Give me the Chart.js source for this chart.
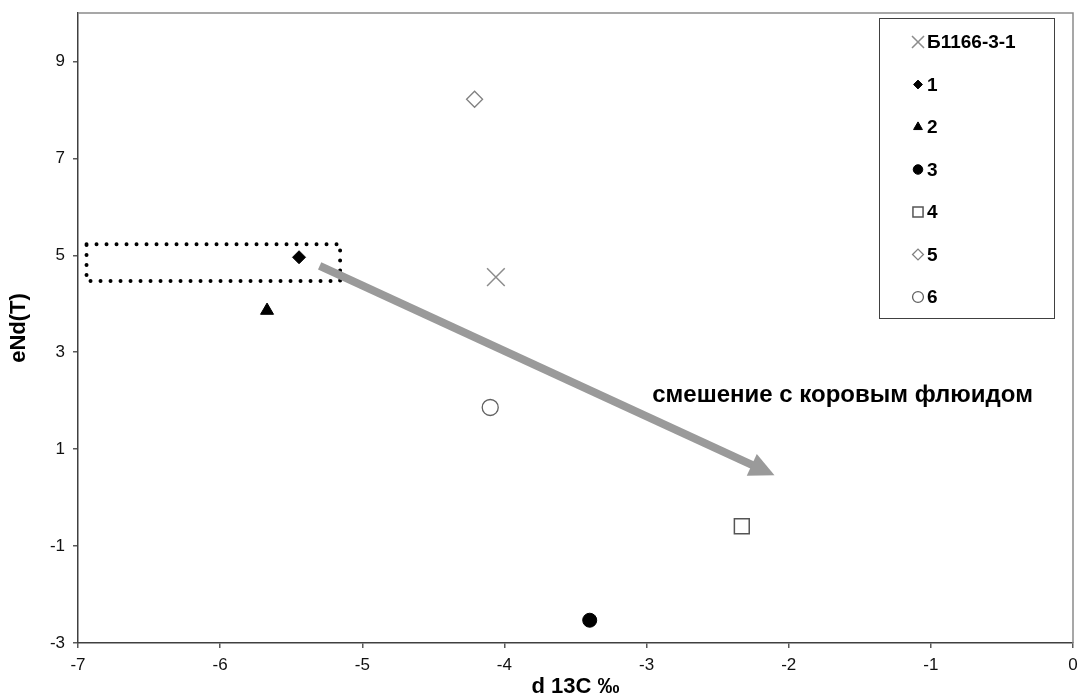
<!DOCTYPE html>
<html><head><meta charset="utf-8">
<script src="https://cdn.jsdelivr.net/npm/chart.js@4/dist/chart.umd.min.js"></script>
<style>html,body{margin:0;padding:0;background:#fff;overflow:hidden}canvas{display:block}</style>
</head><body>
<canvas id="c" width="1078" height="700"></canvas>
<script>
// ---- data ----
const seriesLabels = ['Б1166-3-1', '1', '2', '3', '4', '5', '6'];
const xValues = [-4.06, -5.445, -5.67, -3.40, -2.33, -4.21, -4.10];
const yValues = [4.55, 4.96, 3.86, -2.53, -0.59, 8.22, 1.86];
const xTicks = [-7, -6, -5, -4, -3, -2, -1, 0];
const yTicks = [-3, -1, 1, 3, 5, 7, 9];
const xTitle = 'd 13C ‰';
const yTitle = 'eNd(T)';
const boxXRange = [-6.94, -5.156];
const boxYRange = [4.47, 5.23];
const arrowFrom = [-5.30, 4.78];
const arrowTo = [-2.10, 0.46];
const noteText = 'смешение с коровым флюидом';
const notePos = [-2.96, 2.12];

// ---- styles ----
const FONT = "'Liberation Sans', Arial, sans-serif";
const markerStyles = [
  {pointStyle: 'crossRot', radius: 12.5, fill: 'rgba(0,0,0,0)', stroke: '#8c8c8c', bw: 1.5},
  {pointStyle: 'rectRot', radius: 6.5, fill: '#000', stroke: '#000', bw: 1},
  {pointStyle: 'triangle', radius: 7.5, fill: '#000', stroke: '#000', bw: 1},
  {pointStyle: 'circle', radius: 7, fill: '#000', stroke: '#000', bw: 1},
  {pointStyle: 'rect', radius: 10.5, fill: '#fff', stroke: '#555', bw: 1.5},
  {pointStyle: 'rectRot', radius: 8, fill: '#fff', stroke: '#808080', bw: 1.3},
  {pointStyle: 'circle', radius: 8, fill: '#fff', stroke: '#606060', bw: 1.3}
];

const datasets = seriesLabels.map((lab, i) => ({
  label: lab,
  data: [{x: xValues[i], y: yValues[i]}],
  pointStyle: markerStyles[i].pointStyle,
  pointRadius: markerStyles[i].radius,
  pointBackgroundColor: markerStyles[i].fill,
  pointBorderColor: markerStyles[i].stroke,
  pointBorderWidth: markerStyles[i].bw,
  showLine: false
}));

const decorPlugin = {
  id: 'decor',
  beforeDatasetsDraw(chart) {
    const {ctx, chartArea: a, scales: {x, y}} = chart;
    ctx.save();
    ctx.strokeStyle = '#8a8a8a';
    ctx.lineWidth = 1.5;
    ctx.beginPath();
    ctx.moveTo(a.left, a.top); ctx.lineTo(a.right, a.top); ctx.lineTo(a.right, a.bottom);
    ctx.stroke();
    const x0 = x.getPixelForValue(boxXRange[0]), x1 = x.getPixelForValue(boxXRange[1]);
    const y0 = y.getPixelForValue(boxYRange[1]), y1 = y.getPixelForValue(boxYRange[0]);
    ctx.strokeStyle = '#000';
    ctx.lineWidth = 4;
    ctx.lineCap = 'round';
    ctx.setLineDash([0, 10]);
    ctx.strokeRect(x0, y0, x1 - x0, y1 - y0);
    ctx.restore();
  },
  afterDatasetsDraw(chart) {
    const {ctx, scales: {x, y}} = chart;
    ctx.save();
    const sx = x.getPixelForValue(arrowFrom[0]), sy = y.getPixelForValue(arrowFrom[1]);
    const ex = x.getPixelForValue(arrowTo[0]), ey = y.getPixelForValue(arrowTo[1]);
    const ang = Math.atan2(ey - sy, ex - sx);
    const headLen = 25, headHalf = 12;
    const bx = ex - headLen * Math.cos(ang), by = ey - headLen * Math.sin(ang);
    ctx.strokeStyle = '#9a9a9a';
    ctx.fillStyle = '#9a9a9a';
    ctx.lineWidth = 8;
    ctx.lineCap = 'butt';
    ctx.beginPath(); ctx.moveTo(sx, sy); ctx.lineTo(bx + 2 * Math.cos(ang), by + 2 * Math.sin(ang)); ctx.stroke();
    ctx.beginPath();
    ctx.moveTo(ex, ey);
    ctx.lineTo(bx - headHalf * Math.sin(ang), by + headHalf * Math.cos(ang));
    ctx.lineTo(bx + headHalf * Math.sin(ang), by - headHalf * Math.cos(ang));
    ctx.closePath(); ctx.fill();
    ctx.fillStyle = '#000';
    ctx.font = 'bold 24px ' + FONT;
    ctx.textAlign = 'left';
    ctx.textBaseline = 'middle';
    ctx.fillText(noteText, x.getPixelForValue(notePos[0]), y.getPixelForValue(notePos[1]));
    const L = {left: 879, top: 18, right: 1054, bottom: 318};
    ctx.fillStyle = '#fff';
    ctx.fillRect(L.left, L.top, L.right - L.left, L.bottom - L.top);
    ctx.strokeStyle = '#404040';
    ctx.lineWidth = 1;
    ctx.strokeRect(L.left + 0.5, L.top + 0.5, L.right - L.left, L.bottom - L.top);
    seriesLabels.forEach((lab, i) => {
      const cy = 42 + i * 42.5;
      const m = markerStyles[i];
      ctx.save();
      ctx.fillStyle = m.fill;
      ctx.strokeStyle = m.stroke;
      ctx.lineWidth = m.bw;
      Chart.helpers.drawPoint(ctx, {pointStyle: m.pointStyle, radius: m.radius * 0.68, rotation: 0, borderWidth: m.bw}, 918, cy);
      ctx.restore();
      ctx.fillStyle = '#000';
      ctx.font = 'bold 19px ' + FONT;
      ctx.textAlign = 'left';
      ctx.textBaseline = 'middle';
      ctx.fillText(lab, 927, cy + 1);
    });
    ctx.restore();
  }
};

new Chart(document.getElementById('c'), {
  type: 'scatter',
  data: {datasets},
  plugins: [decorPlugin],
  options: {
    responsive: false,
    animation: false,
    devicePixelRatio: 1,
    layout: {autoPadding: false, padding: {top: 13, right: 5, left: 0, bottom: 0}},
    plugins: {legend: {display: false}, tooltip: {enabled: false}},
    scales: {
      x: {
        type: 'linear', min: -7, max: 0,
        afterBuildTicks: s => { s.ticks = xTicks.map(v => ({value: v})); },
        afterFit: s => { s.height = 57; s.paddingLeft = 0; s.paddingRight = 0; },
        grid: {drawOnChartArea: false, drawTicks: true, tickLength: 5, color: '#595959', lineWidth: 1.5},
        border: {color: '#404040', width: 1.5},
        ticks: {font: {family: FONT, size: 17}, color: '#111', padding: 7, maxRotation: 0, autoSkip: false},
        title: {display: true, text: xTitle, color: '#000', font: {family: FONT, size: 22, weight: 'bold'}, padding: {top: 0, bottom: 0}}
      },
      y: {
        type: 'linear', min: -3, max: 10,
        afterBuildTicks: s => { s.ticks = yTicks.map(v => ({value: v})); },
        afterFit: s => { s.width = 78; s.paddingTop = 0; s.paddingBottom = 0; },
        grid: {drawOnChartArea: false, drawTicks: true, tickLength: 5, color: '#595959', lineWidth: 1.5},
        border: {color: '#404040', width: 1.5},
        ticks: {font: {family: FONT, size: 17}, color: '#111', padding: 8, autoSkip: false},
        title: {display: true, text: yTitle, color: '#000', font: {family: FONT, size: 22, weight: 'bold'}, padding: {top: 6, bottom: 0}}
      }
    }
  }
});
</script>
</body></html>
